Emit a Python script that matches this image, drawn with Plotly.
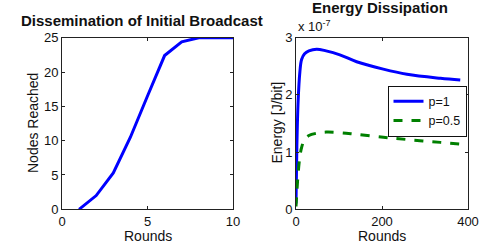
import plotly.graph_objects as go

rounds_left = [1, 2, 3, 4, 5, 6, 7, 8, 9, 10]
nodes_reached = [0, 2.0, 5.3, 10.5, 16.5, 22.4, 24.4, 25, 25, 25]

rounds_right = [0, 2, 5, 9, 13, 20, 30, 48, 70, 102, 141, 203, 258, 336, 382]
energy_p1 = [0.1e-7, 1.1e-7, 1.9e-7, 2.4e-7, 2.62e-7, 2.72e-7, 2.77e-7, 2.80e-7, 2.77e-7, 2.70e-7, 2.58e-7, 2.45e-7, 2.36e-7, 2.29e-7, 2.26e-7]
energy_p05 = [0.05e-7, 0.3e-7, 0.63e-7, 0.92e-7, 1.08e-7, 1.22e-7, 1.29e-7, 1.33e-7, 1.35e-7, 1.34e-7, 1.31e-7, 1.26e-7, 1.22e-7, 1.17e-7, 1.14e-7]

FONT = "Liberation Sans, Arial, sans-serif"
W, H = 483, 250

fig = go.Figure()
fig.add_trace(go.Scatter(x=rounds_left, y=nodes_reached, mode="lines",
                         line=dict(color="#0000ff", width=3), showlegend=False,
                         xaxis="x", yaxis="y"))
fig.add_trace(go.Scatter(x=rounds_right, y=energy_p1, mode="lines", name="p=1",
                         line=dict(color="#0000ff", width=3, shape="spline"),
                         xaxis="x2", yaxis="y2"))
fig.add_trace(go.Scatter(x=rounds_right, y=energy_p05, mode="lines", name="p=0.5",
                         line=dict(color="#008000", width=3, dash="dash", shape="spline"),
                         xaxis="x2", yaxis="y2"))

def py(v):
    return (H - v) / H

def px(v):
    return v / W

ydom = [py(209.3), py(37.7)]
axcommon = dict(showline=True, linecolor="#222222", linewidth=1, mirror="ticks",
                ticks="inside", ticklen=3, tickcolor="#222222", showgrid=False,
                zeroline=False, automargin=False,
                tickfont=dict(family=FONT, size=13, color="#111111"))

def ann(text, x, y, size=14, bold=False, angle=0, xanchor="center", yanchor="middle"):
    return dict(text=f"<b>{text}</b>" if bold else text, x=px(x), y=py(y),
                xref="paper", yref="paper", showarrow=False, textangle=angle,
                font=dict(size=size, family=FONT, color="#111111"),
                xanchor=xanchor, yanchor=yanchor)

fig.update_layout(
    width=W, height=H,
    margin=dict(l=0, r=0, t=0, b=0, autoexpand=False),
    paper_bgcolor="white", plot_bgcolor="white",
    font=dict(family=FONT, size=13, color="#111111"),
    xaxis=dict(domain=[px(62), px(233)], range=[0, 10], tickvals=[0, 5, 10],
               anchor="y", **axcommon),
    yaxis=dict(domain=ydom, range=[0, 25], tickvals=[0, 5, 10, 15, 20, 25],
               anchor="x", **axcommon),
    xaxis2=dict(domain=[px(296), px(468)], range=[0, 400], tickvals=[0, 200, 400],
                anchor="y2", **axcommon),
    yaxis2=dict(domain=ydom, range=[0, 3e-7], tickvals=[0, 1e-7, 2e-7, 3e-7],
                ticktext=["0", "1", "2", "3"], anchor="x2", **axcommon),
    legend=dict(x=px(466.5), xanchor="right", y=py(85.7), yanchor="top",
                bgcolor="white", bordercolor="#111111", borderwidth=1,
                font=dict(family=FONT, size=12.5, color="#111111"), tracegroupgap=0,
                itemwidth=30),
    annotations=[
        ann("Dissemination of Initial Broadcast", 142, 20.7, size=15, bold=True),
        ann("Energy Dissipation", 380, 7.5, size=15, bold=True),
        ann("x 10<sup>-7</sup>", 296, 36, size=13, xanchor="left", yanchor="bottom"),
        ann("Rounds", 147.5, 236),
        ann("Rounds", 382, 236),
        ann("Nodes Reached", 33, 123, angle=-90),
        ann("Energy [J/bit]", 276.5, 123, angle=-90),
    ],
)

fig.write_html("out.html",
               config={"displayModeBar": False},
               post_script="document.body.style.margin='0';document.body.style.overflow='hidden';")
